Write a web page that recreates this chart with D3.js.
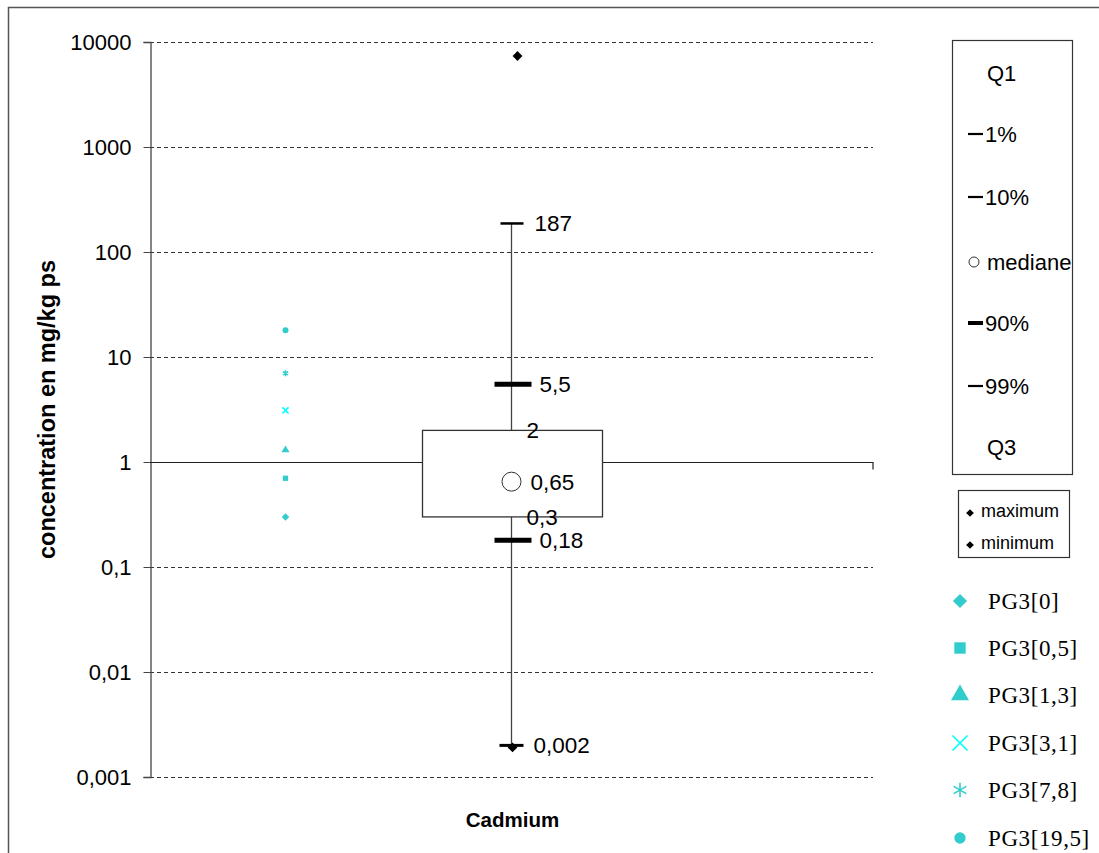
<!DOCTYPE html>
<html><head><meta charset="utf-8">
<script src="https://cdn.jsdelivr.net/npm/d3@7"></script>
<style>body{margin:0;background:#fff}svg{display:block}</style>
</head><body>
<script>
// ---- data ----
const categories = ["Cadmium"];
const yTicks = [0.001, 0.01, 0.1, 1, 10, 100, 1000, 10000];
const yTickLabels = ["0,001", "0,01", "0,1", "1", "10", "100", "1000", "10000"];
const q1 = [0.3], q3 = [2], median = [0.65];
const p1 = [0.002], p10 = [0.18], p90 = [5.5], p99 = [187];
const maxima = [7360], minima = [0.002];
const boxLabels = [["187", 187], ["5,5", 5.5], ["2", 2], ["0,65", 0.65], ["0,3", 0.3], ["0,18", 0.18], ["0,002", 0.002]];
const pgNames = ["PG3[0]", "PG3[0,5]", "PG3[1,3]", "PG3[3,1]", "PG3[7,8]", "PG3[19,5]"];
const pgValues = [0.3, 0.7, 1.3, 3.1, 7.0, 18];
const pgSymbols = ["diamond", "square", "triangle", "x", "star", "circle"];
const pgColors = ["#33CCCC", "#33CCCC", "#33CCCC", "#00FFFF", "#33CCCC", "#33CCCC"];
const legendStats = ["Q1", "1%", "10%", "mediane", "90%", "99%", "Q3"];

// ---- layout ----
const W = 1099, H = 853;
const svg = d3.select("body").append("svg").attr("width", W).attr("height", H);
const pL = 150, pR = 873, pT = 42, pB = 777;
const y = d3.scaleLog().domain([0.001, 10000]).range([pB, pT]);
const x = d3.scaleBand().domain(categories).range([pL, pR]);
const cx = x(categories[0]) + x.bandwidth() / 2;
const font = "'Liberation Sans', Arial, sans-serif";
const serif = "'Liberation Serif', 'Times New Roman', serif";

// outer border
svg.append("path").attr("d", `M8.5,${H} V7.5 H${W}`).attr("fill", "none").attr("stroke", "#555").attr("stroke-width", 1.5);

// gridlines
svg.append("g").selectAll("line").data(yTicks).join("line")
  .attr("x1", pL).attr("x2", pR).attr("y1", d => Math.round(y(d)) + 0.5).attr("y2", d => Math.round(y(d)) + 0.5)
  .attr("stroke", "#333").attr("stroke-width", 1).attr("stroke-dasharray", "4,3");

// y axis
const yAxis = d3.axisLeft(y).tickValues(yTicks).tickFormat((d, i) => yTickLabels[i]).tickSize(7).tickPadding(12);
const ga = svg.append("g").attr("transform", `translate(${pL + 0.5},0)`).call(yAxis);
ga.select(".domain").attr("stroke", "#444").attr("stroke-width", 1.3);
ga.selectAll(".tick line").attr("stroke", "#444");
ga.selectAll(".tick text").attr("font-family", font).attr("font-size", 22).attr("fill", "#000");

// x axis crossing at 1
const xAxis = d3.axisBottom(x).tickSize(0).tickFormat(() => "");
const gx = svg.append("g").attr("transform", `translate(0,${Math.round(y(1)) + 0.5})`).call(xAxis);
gx.select(".domain").attr("stroke", "#222").attr("stroke-width", 1.2).attr("d", `M${pL},0H${pR}V7`);

// category label
svg.append("text").attr("x", cx + 1).attr("y", 827).attr("text-anchor", "middle")
  .attr("font-family", font).attr("font-weight", "bold").attr("font-size", 20.5).text(categories[0]);

// y title
svg.append("text").attr("transform", `translate(55,${(pT + pB) / 2}) rotate(-90)`).attr("text-anchor", "middle")
  .attr("font-family", font).attr("font-weight", "bold").attr("font-size", 23.5).text("concentration en mg/kg ps");

// box plot
const g = svg.append("g");
const boxW = 180;
g.append("line").attr("x1", cx).attr("x2", cx).attr("y1", y(p99[0])).attr("y2", y(p1[0])).attr("stroke", "#444").attr("stroke-width", 1.3);
g.append("rect").attr("x", cx - boxW / 2 + 1).attr("y", y(q3[0])).attr("width", boxW).attr("height", y(q1[0]) - y(q3[0]))
  .attr("fill", "#fff").attr("stroke", "#333").attr("stroke-width", 1.3);
g.append("line").attr("x1", cx - 11).attr("x2", cx + 12).attr("y1", y(p99[0])).attr("y2", y(p99[0])).attr("stroke", "#000").attr("stroke-width", 2.5);
[p90[0], p10[0]].forEach(v => g.append("line").attr("x1", cx - 17).attr("x2", cx + 20).attr("y1", y(v)).attr("y2", y(v)).attr("stroke", "#000").attr("stroke-width", 5));
g.append("line").attr("x1", cx - 12).attr("x2", cx + 12).attr("y1", y(p1[0])).attr("y2", y(p1[0])).attr("stroke", "#000").attr("stroke-width", 3);
g.append("circle").attr("cx", cx).attr("cy", y(median[0])).attr("r", 9.5).attr("fill", "#fff").attr("stroke", "#333").attr("stroke-width", 1);
const dia = d3.symbol().type(d3.symbolSquare).size(48);
maxima.forEach(v => g.append("path").attr("d", dia()).attr("transform", `translate(${cx + 6},${y(v)}) rotate(45)`).attr("fill", "#000"));
minima.forEach(v => g.append("path").attr("d", dia()).attr("transform", `translate(${cx + 1},${y(v) + 2}) rotate(45)`).attr("fill", "#000"));
const labOff = {"187": 23, "5,5": 28, "2": 15, "0,65": 19, "0,3": 15, "0,18": 28, "0,002": 22};
g.selectAll("text.bl").data(boxLabels).join("text").attr("class", "bl")
  .attr("x", d => cx + labOff[d[0]]).attr("y", d => y(d[1]) + 8)
  .attr("font-family", font).attr("font-size", 22.5).attr("fill", "#000").text(d => d[0]);

// PG3 scatter
const symMap = {diamond: d3.symbolSquare, square: d3.symbolSquare, triangle: d3.symbolTriangle, x: d3.symbolTimes, star: d3.symbolAsterisk, circle: d3.symbolCircle};
const sx = cx - 226;
const drawSym = (sel, type, size, color, tx, ty) => {
  const filled = !(type === "x" || type === "star");
  sel.attr("d", d3.symbol().type(symMap[type]).size(size)())
    .attr("transform", `translate(${tx},${ty})` + (type === "diamond" ? " rotate(45)" : ""))
    .attr("fill", filled ? color : "none").attr("stroke", filled ? "none" : color).attr("stroke-width", filled ? 0 : 1.6);
};
pgValues.forEach((v, i) => {
  const t = pgSymbols[i];
  drawSym(svg.append("path"), t, t === "x" || t === "star" ? 26 : 28, pgColors[i], sx, y(v));
});

// legend 1
const l1 = svg.append("g");
l1.append("rect").attr("x", 952.5).attr("y", 40.5).attr("width", 120).attr("height", 434).attr("fill", "#fff").attr("stroke", "#333").attr("stroke-width", 1.2);
const l1y = [73, 134, 197, 262, 323, 386, 447];
legendStats.forEach((s, i) => {
  const tx = (s === "Q1" || s === "Q3") ? 987 : (s === "mediane" ? 987 : 985);
  l1.append("text").attr("x", tx).attr("y", l1y[i] + 8).attr("font-family", font).attr("font-size", 22).text(s);
  if (["1%", "10%", "99%"].includes(s)) l1.append("line").attr("x1", 968).attr("x2", 983).attr("y1", l1y[i]).attr("y2", l1y[i]).attr("stroke", "#000").attr("stroke-width", 2.2);
  if (s === "90%") l1.append("line").attr("x1", 968).attr("x2", 983).attr("y1", l1y[i]).attr("y2", l1y[i]).attr("stroke", "#000").attr("stroke-width", 4);
  if (s === "mediane") l1.append("circle").attr("cx", 974).attr("cy", l1y[i]).attr("r", 5).attr("fill", "#fff").attr("stroke", "#333");
});

// legend 2
const l2 = svg.append("g");
l2.append("rect").attr("x", 958.5).attr("y", 490.5).attr("width", 111).attr("height", 67).attr("fill", "#fff").attr("stroke", "#333").attr("stroke-width", 1.2);
[["maximum", 511], ["minimum", 543]].forEach(([t, yy]) => {
  l2.append("path").attr("d", d3.symbol().type(d3.symbolSquare).size(30)()).attr("transform", `translate(970,${yy + 2}) rotate(45)`).attr("fill", "#000");
  l2.append("text").attr("x", 981).attr("y", yy + 6).attr("font-family", font).attr("font-size", 18).text(t);
});

// legend 3
const l3y = [601, 648, 695, 743, 790, 838];
pgNames.forEach((n, i) => {
  const t = pgSymbols[i];
  const sz = {diamond: 100, square: 130, triangle: 140, x: 150, star: 150, circle: 100}[t];
  drawSym(svg.append("path"), t, sz, pgColors[i], 960, l3y[i]);
  svg.append("text").attr("x", 988).attr("y", l3y[i] + 8).attr("font-family", serif).attr("font-size", 23).attr("letter-spacing", 0.6).attr("fill", "#000").text(n);
});
</script>
</body></html>
